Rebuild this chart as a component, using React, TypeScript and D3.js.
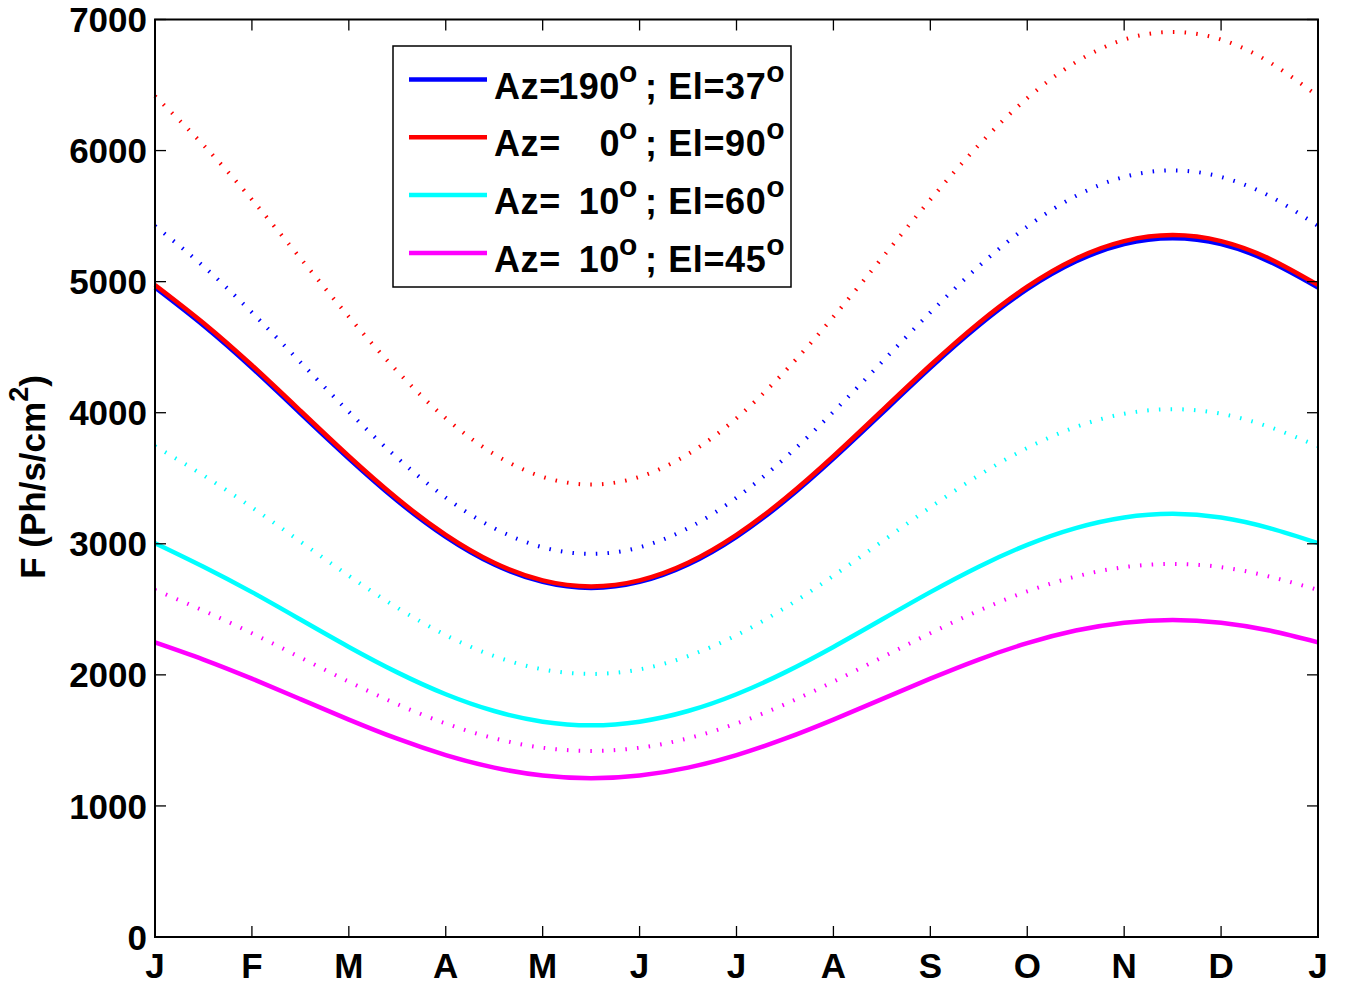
import React from 'react';
import * as d3 from "d3";

// month index (0 = Jan 1, 12 = next Jan 1), half month steps
const monthPos = [0, 0.5, 1, 1.5, 2, 2.5, 3, 3.5, 4, 4.5, 5, 5.5, 6, 6.5, 7, 7.5, 8, 8.5, 9, 9.5, 10, 10.5, 11, 11.5, 12];

// solid lines
const blueSolid = [4955, 4665, 4342, 3995, 3650, 3328, 3053, 2842, 2709, 2663, 2709, 2842, 3053, 3328, 3650, 3995, 4342, 4665, 4942, 5153, 5287, 5332, 5287, 5153, 4955];
const redSolid = [4975, 4685, 4362, 4015, 3668, 3345, 3068, 2855, 2721, 2675, 2721, 2855, 3068, 3345, 3668, 4015, 4362, 4685, 4962, 5175, 5309, 5355, 5309, 5175, 4975];
const cyanSolid = [3005, 2825, 2631, 2422, 2213, 2019, 1852, 1724, 1643, 1615, 1643, 1724, 1852, 2019, 2213, 2422, 2631, 2825, 2992, 3120, 3201, 3229, 3201, 3120, 3005];
const magentaSolid = [2248, 2117, 1971, 1815, 1659, 1513, 1388, 1292, 1232, 1211, 1232, 1292, 1388, 1513, 1659, 1815, 1971, 2117, 2242, 2338, 2398, 2419, 2398, 2338, 2248];

// dotted lines
const blueDotted = [5425, 5117, 4765, 4386, 4007, 3655, 3352, 3119, 2973, 2923, 2973, 3119, 3352, 3655, 4007, 4386, 4765, 5117, 5420, 5653, 5799, 5849, 5799, 5653, 5425];
const redDotted = [6415, 6042, 5626, 5179, 4732, 4316, 3958, 3684, 3511, 3452, 3511, 3684, 3958, 4316, 4732, 5179, 5626, 6042, 6400, 6674, 6847, 6905, 6847, 6674, 6415];
const cyanDotted = [3745, 3522, 3278, 3017, 2756, 2512, 2303, 2143, 2042, 2007, 2042, 2143, 2303, 2512, 2756, 3017, 3278, 3522, 3731, 3891, 3992, 4027, 3992, 3891, 3745];
const magentaDotted = [2648, 2490, 2318, 2133, 1948, 1776, 1629, 1516, 1444, 1420, 1444, 1516, 1629, 1776, 1948, 2133, 2318, 2490, 2637, 2750, 2822, 2846, 2822, 2750, 2648];

const monthLabels = ["J", "F", "M", "A", "M", "J", "J", "A", "S", "O", "N", "D", "J"];
const yTicks = [0, 1000, 2000, 3000, 4000, 5000, 6000, 7000];

const legendAz = ["190", "0", "10", "10"];
const legendEl = ["37", "90", "60", "45"];
const legendColors = ["#0000ff", "#ff0000", "#00ffff", "#ff00ff"];

const FONT = "'Liberation Sans', Arial, Helvetica, sans-serif";

function App() {
    const left = 155, right = 1318, top = 19.5, bottom = 937;
    const TICK = 11;

    const xScale = d3.scaleLinear().domain([0, 12]).range([left, right]);
    const yScale = d3.scaleLinear().domain([0, 7000]).range([bottom, top]);

    const line = (vals: number[]) =>
        d3.line<number>()
            .x((d, i) => xScale(monthPos[i]))
            .y((d) => yScale(d))
            .curve(d3.curveNatural)(vals) || "";

    const solids = [
        { vals: blueSolid, color: "#0000ff" },
        { vals: redSolid, color: "#ff0000" },
        { vals: cyanSolid, color: "#00ffff" },
        { vals: magentaSolid, color: "#ff00ff" },
    ];
    const dotted = [
        { vals: blueDotted, color: "#0000ff" },
        { vals: redDotted, color: "#ff0000" },
        { vals: cyanDotted, color: "#00ffff" },
        { vals: magentaDotted, color: "#ff00ff" },
    ];

    const legX = 393, legY = 46, legW = 398, legH = 241;
    const rowY = (i: number) => 79.5 + i * 57.8;

    return (
        <svg width={1351} height={986} style={{ position: 'absolute', left: 0, top: 0, background: '#fff' }}
            fontFamily={FONT} fontWeight="bold">
            <rect x={0} y={0} width={1351} height={986} fill="#fff" />

            {/* dotted curves */}
            {dotted.map((s, i) => (
                <path key={'d' + i} d={line(s.vals)} fill="none" stroke={s.color}
                    strokeWidth={4} strokeDasharray="1.5 10.2" />
            ))}
            {/* solid curves */}
            {solids.map((s, i) => (
                <path key={'s' + i} d={line(s.vals)} fill="none" stroke={s.color} strokeWidth={4.5} />
            ))}

            {/* ticks */}
            <g stroke="#000" strokeWidth={1.3}>
                {monthLabels.map((m, i) => (
                    <g key={'xt' + i}>
                        <line x1={xScale(i)} x2={xScale(i)} y1={bottom} y2={bottom - TICK} />
                        <line x1={xScale(i)} x2={xScale(i)} y1={top} y2={top + TICK} />
                    </g>
                ))}
                {yTicks.map((t) => (
                    <g key={'yt' + t}>
                        <line x1={left} x2={left + TICK} y1={yScale(t)} y2={yScale(t)} />
                        <line x1={right} x2={right - TICK} y1={yScale(t)} y2={yScale(t)} />
                    </g>
                ))}
            </g>
            <rect x={left} y={top} width={right - left} height={bottom - top} fill="none" stroke="#000" strokeWidth={2} />

            {/* tick labels */}
            {yTicks.map((t) => (
                <text key={'yl' + t} x={left - 8} y={yScale(t)} dy="0.36em" textAnchor="end" fontSize={35}>{t}</text>
            ))}
            {monthLabels.map((m, i) => (
                <text key={'xl' + i} x={xScale(i)} y={978} textAnchor="middle" fontSize={35}>{m}</text>
            ))}

            {/* y axis title */}
            <text transform="translate(45,477) rotate(-90)" textAnchor="middle" fontSize={35}>
                F (Ph/s/cm<tspan dy={-17} fontSize={27}>2</tspan><tspan dy={17}>)</tspan>
            </text>

            {/* legend */}
            <rect x={legX} y={legY} width={legW} height={legH} fill="#fff" stroke="#000" strokeWidth={1.5} />
            {legendAz.map((az, i) => (
                <g key={'lg' + i}>
                    <line x1={409} x2={487} y1={rowY(i)} y2={rowY(i)} stroke={legendColors[i]} strokeWidth={4.5} />
                    <text x={494} y={rowY(i) + 19} fontSize={36} letterSpacing={0.6}>Az=</text>
                    <text x={620} y={rowY(i) + 19} fontSize={36} letterSpacing={0.6} textAnchor="end">{az}</text>
                    <text x={619} y={rowY(i) + 2} fontSize={30}>o</text>
                    <text x={645} y={rowY(i) + 19} fontSize={36} letterSpacing={0.6}>
                        ; El={legendEl[i]}<tspan dy={-17} fontSize={30}>o</tspan>
                    </text>
                </g>
            ))}
        </svg>
    );
}

export default App;
